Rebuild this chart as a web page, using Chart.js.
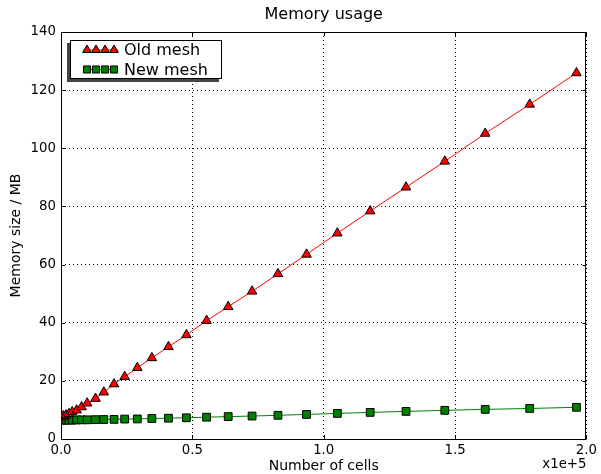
<!DOCTYPE html>
<html>
<head>
<meta charset="utf-8">
<script src="https://cdn.jsdelivr.net/npm/chart.js@4"></script>
<style>
  html, body { margin: 0; padding: 0; background: #fff; }
</style>
</head>
<body>
<canvas id="memChart" width="601" height="474"></canvas>
<script>
// Values
const cells = [190, 870, 1890, 3030, 4280, 5950, 7840, 9960, 13140, 16290,
  20190, 24240, 29050, 34580, 40910, 47730, 55420, 63640, 72730, 82580,
  93450, 105190, 117690, 131330, 146100, 161480, 178410, 196210];
const oldMesh = [7.5, 7.9, 8.2, 8.7, 9.3, 9.9, 11.0, 12.3, 13.9, 16.1,
  18.9, 21.4, 24.5, 27.9, 31.7, 35.8, 40.7, 45.5, 50.8, 56.8,
  63.5, 70.8, 78.4, 86.6, 95.5, 105.1, 115.1, 125.9];
const newMesh = [6.5, 6.5, 6.5, 6.5, 6.5, 6.55, 6.6, 6.6, 6.65, 6.7,
  6.75, 6.85, 6.9, 7.05, 7.15, 7.3, 7.5, 7.7, 7.9, 8.15,
  8.45, 8.8, 9.15, 9.5, 9.85, 10.2, 10.5, 10.9];
const seriesNames = ['Old mesh', 'New mesh'];
const xMax = 200000, xStep = 50000;
const yMax = 140, yStep = 20;

const font = 'DejaVu Sans';

function points(ys) {
  return cells.map((c, i) => ({ x: c, y: ys[i] }));
}

// matplotlib style bits: box, inward ticks, shadowed legend, title, offset label
const mplLook = {
  id: 'mplLook',
  beforeDatasetsDraw(chart) {
    const { ctx, chartArea: a } = chart;
    ctx.save();
    ctx.strokeStyle = '#000';
    ctx.lineWidth = 1;
    ctx.strokeRect(Math.round(a.left) + 0.5, Math.round(a.top) + 0.5,
      Math.round(a.right - a.left) - 1, Math.round(a.bottom - a.top));
    // inward ticks
    const xs = chart.scales.x, ys = chart.scales.y;
    ctx.beginPath();
    xs.ticks.forEach(t => {
      const px = Math.round(xs.getPixelForValue(t.value)) + 0.5;
      ctx.moveTo(px, a.bottom); ctx.lineTo(px, a.bottom - 4);
      ctx.moveTo(px, a.top); ctx.lineTo(px, a.top + 4);
    });
    ys.ticks.forEach(t => {
      const py = Math.round(ys.getPixelForValue(t.value)) + 0.5;
      ctx.moveTo(a.left, py); ctx.lineTo(a.left + 4, py);
      ctx.moveTo(a.right, py); ctx.lineTo(a.right - 4, py);
    });
    ctx.stroke();
    ctx.restore();
  },
  afterDatasetsDraw(chart) {
    const { ctx, chartArea: a } = chart;
    ctx.save();
    const x0 = Math.round(a.left) + 9, y0 = Math.round(a.top) + 8, w = 152, h = 39;
    ctx.fillStyle = '#444';
    ctx.fillRect(x0 - 3, y0 + 3, w, h);
    ctx.fillStyle = '#fff';
    ctx.fillRect(x0, y0, w, h);
    ctx.strokeStyle = '#000';
    ctx.lineWidth = 1;
    ctx.strokeRect(x0 + 0.5, y0 + 0.5, w - 1, h - 1);
    chart.data.datasets.forEach((ds, i) => {
      const cy = y0 + 10 + i * 19.5;
      ctx.strokeStyle = ds.borderColor;
      ctx.lineWidth = 1;
      ctx.beginPath();
      ctx.moveTo(x0 + 13, cy); ctx.lineTo(x0 + 48, cy);
      ctx.stroke();
      ctx.fillStyle = ds.pointBackgroundColor;
      ctx.strokeStyle = ds.pointBorderColor;
      for (let k = 0; k < 4; k++) {
        Chart.helpers.drawPoint(ctx, {
          pointStyle: ds.pointStyle, radius: 5,
          borderWidth: 1, rotation: 0
        }, x0 + 17 + k * 9, cy);
      }
      ctx.fillStyle = '#000';
      ctx.font = '16px "' + font + '"';
      ctx.textBaseline = 'middle';
      ctx.textAlign = 'left';
      ctx.fillText(ds.label, x0 + 54, cy + 1);
    });
    ctx.fillStyle = '#000';
    ctx.textBaseline = 'middle';
    // title, centred over the plot area
    ctx.font = '16px "' + font + '"';
    ctx.textAlign = 'center';
    ctx.fillText('Memory usage', (a.left + a.right) / 2, 15);
    // offset text of the x axis
    ctx.font = '13.3px "' + font + '"';
    ctx.textAlign = 'right';
    ctx.fillText('x1e+5', a.right, 465);
    ctx.restore();
  }
};

const ctx = document.getElementById('memChart').getContext('2d');
const memChart = new Chart(ctx, {
  type: 'scatter',
  data: {
    datasets: [{
      label: seriesNames[0],
      data: points(oldMesh),
      showLine: true,
      borderColor: '#ff0000',
      borderWidth: 1,
      pointStyle: 'triangle',
      pointRadius: 5.5,
      pointBackgroundColor: '#ff0000',
      pointBorderColor: '#000',
      pointBorderWidth: 1
    }, {
      label: seriesNames[1],
      data: points(newMesh),
      showLine: true,
      borderColor: '#008000',
      borderWidth: 1,
      pointStyle: 'rect',
      pointRadius: 5.5,
      pointBackgroundColor: '#008000',
      pointBorderColor: '#000',
      pointBorderWidth: 1
    }]
  },
  options: {
    responsive: false,
    animation: false,
    layout: { padding: { left: 0, right: 12, top: 32, bottom: 0 } },
    scales: {
      x: {
        type: 'linear',
        min: 0, max: xMax,
        ticks: {
          stepSize: xStep,
          color: '#000',
          padding: 4,
          font: { family: font, size: 13.3 },
          callback: v => (v / 1e5).toFixed(1)
        },
        grid: { color: '#000', drawTicks: false, lineWidth: 1 },
        border: { display: false, dash: [1, 3] },
        title: {
          display: true, text: 'Number of cells', color: '#000',
          font: { family: font, size: 14 }, padding: { top: 0, bottom: -1 }
        },
        afterFit: s => { s.height = 35; }
      },
      y: {
        min: 0, max: yMax,
        ticks: {
          stepSize: yStep,
          color: '#000',
          padding: 5,
          font: { family: font, size: 13.3 }
        },
        grid: { color: '#000', drawTicks: false, lineWidth: 1 },
        border: { display: false, dash: [1, 3] },
        title: {
          display: true, text: 'Memory size / MB', color: '#000',
          font: { family: font, size: 14 }, padding: { top: 8, bottom: 0 }
        },
        afterFit: s => { s.width = 61; }
      }
    },
    plugins: {
      legend: { display: false },
      tooltip: { enabled: false },
      title: { display: false }
    }
  },
  plugins: [mplLook]
});
</script>
</body>
</html>
